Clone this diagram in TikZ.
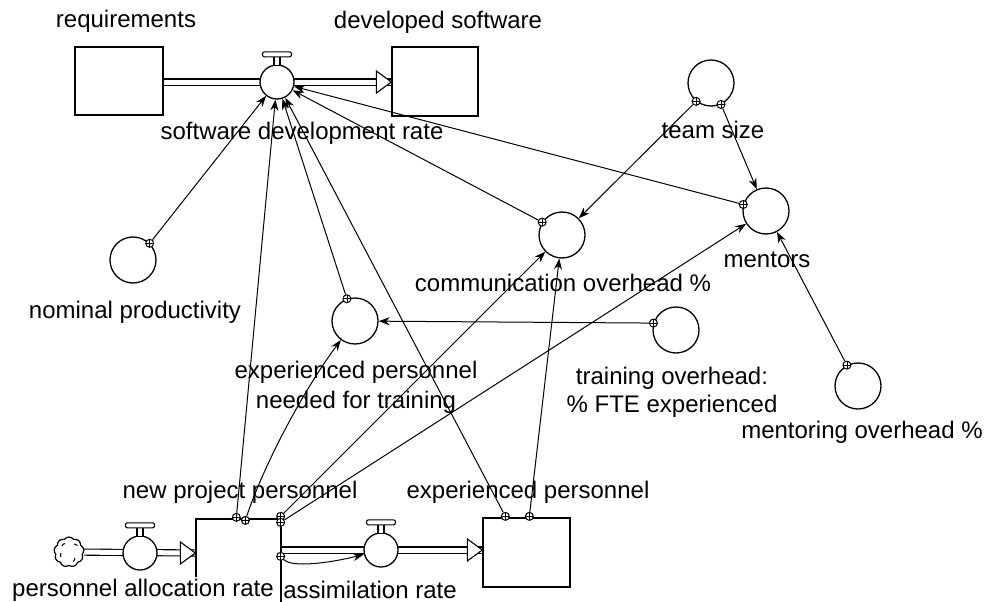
\documentclass[tikz,border=0pt]{standalone}
\usepackage{fontspec}
\setmainfont{Liberation Sans}
\usetikzlibrary{arrows.meta,shapes.symbols,calc}
\pgfdeclarelayer{links}
\pgfsetlayers{links,main}
\begin{document}
\begin{tikzpicture}[x=1pt,y=-1pt,
  lbl/.style={font=\fontsize{24}{28}\selectfont, inner sep=0pt, align=center},
  stock/.style={draw, line width=1.3pt, inner sep=0pt},
  aux/.style={draw, circle, line width=1.3pt, minimum size=46pt, inner sep=0pt, fill=white},
  valve/.style={draw, circle, line width=1.3pt, minimum size=34pt, inner sep=0pt, fill=white},
  tail/.style={draw, circle, line width=1pt, minimum size=8pt, inner sep=0pt, fill=white,
    path picture={\draw[line width=0.8pt]
      (path picture bounding box.north) -- (path picture bounding box.south)
      (path picture bounding box.west) -- (path picture bounding box.east);}},
  link/.style={line width=1pt, -{Stealth[length=11pt,width=8pt]}},
  pipe/.style={double, double distance=5pt, line width=1.1pt},
  pics/handle/.style={code={
    \draw[line width=1.1pt, fill=white] (-3,1) rectangle (3,-8);
    \draw[line width=1.1pt, fill=white, rounded corners=2pt] (-14.5,-7.5) rectangle (14.5,-12.5);}},
  pics/openhead/.style={code={
    \draw[line width=1.1pt, fill=white, line join=miter] (-15,-11) -- (0,0) -- (-15,11) -- cycle;}},
]
\useasboundingbox (0,0) rectangle (985,602);

% stocks
\node[stock, minimum width=88pt, minimum height=68pt] (req) at (119,81) {};
\node[stock, minimum width=86pt, minimum height=69pt] (dev) at (435,81.5) {};
\node[stock, minimum width=85pt, minimum height=92pt] (newproj) at (238.5,565) {};
\node[stock, minimum width=87pt, minimum height=69pt] (exper) at (526.5,552.5) {};

% source cloud
\node[cloud, draw, cloud puffs=9, cloud puff arc=110, aspect=1,
      minimum width=30pt, minimum height=30pt, line width=1.2pt, fill=white] (src) at (69,552) {};
\draw[line width=1pt] ($(src)+(-7,-6)$) arc[start angle=200, end angle=260, radius=4];
\draw[line width=1pt] ($(src)+(5,-8)$) arc[start angle=270, end angle=330, radius=4];
\draw[line width=1pt] ($(src)+(-8,5)$) arc[start angle=150, end angle=210, radius=4];
\draw[line width=1pt] ($(src)+(6,6)$) arc[start angle=0, end angle=60, radius=4];

% flow valves
\node[valve] (sdr) at (277,82) {};
\node[valve] (alloc) at (140,553) {};
\node[valve] (assim) at (381,550) {};
\pic at (sdr.north) {handle};
\pic at (alloc.north) {handle};
\pic at (assim.north) {handle};

% auxiliaries
\node[aux] (nominal) at (133,260) {};
\node[aux] (expneed) at (355,321) {};
\node[aux] (comm) at (562,235) {};
\node[aux] (team) at (711,83) {};
\node[aux] (mentors) at (766,211) {};
\node[aux] (training) at (676,330) {};
\node[aux] (mentoring) at (858,386) {};

% pipe end points on the stock edges
\coordinate (outR) at (dev.west |- sdr);
\coordinate (inA) at (newproj.west |- alloc);
\coordinate (outA) at (newproj.east |- assim);
\coordinate (inB) at (exper.west |- assim);

% tails of the information links
\node[tail] (tNom) at (nominal.45) {};
\node[tail] (tNeed) at (expneed.110) {};
\node[tail] (tComm) at (comm.147) {};
\node[tail] (tMent) at (mentors.164) {};
\node[tail] (tTrain) at (training.163) {};
\node[tail] (tMoh) at (mentoring.118) {};
\node[tail] (tTeamA) at (team.231) {};
\node[tail] (tTeamB) at (team.295) {};
\node[tail] (tNpA) at ($(newproj.north west)+(41,-1)$) {};
\node[tail] (tNpB) at ($(newproj.north west)+(50,2)$) {};
\node[tail] (tNpC) at ($(newproj.north east)+(-1,-2)$) {};
\node[tail] (tNpD) at ($(newproj.north east)+(-1,4)$) {};
\node[tail] (tNpE) at ($(newproj.north east)+(-1,38)$) {};
\node[tail] (tExA) at ($(exper.north west)+(23,-1)$) {};
\node[tail] (tExB) at ($(exper.north west)+(47,-1)$) {};

\begin{pgfonlayer}{links}
  % material flows
  \draw[pipe] (req.east |- sdr) -- (outR);
  \draw[pipe] (src) -- (inA);
  \draw[pipe] (outA) -- (inB);
  % information links
  \draw[link] (tNom) -- (sdr);
  \draw[link] (tNpA) -- (sdr);
  \draw[link] (tNeed) -- (sdr);
  \draw[link] (tExA) -- (sdr);
  \draw[link] (tComm) -- (sdr);
  \draw[link] (tMent) -- (sdr);
  \draw[link] (tTeamA) -- (comm);
  \draw[link] (tTeamB) -- (mentors);
  \draw[link] (tMoh) -- (mentors);
  \draw[link] (tNpD) -- (mentors);
  \draw[link] (tNpC) -- (comm);
  \draw[link] (tExB) -- (comm);
  \draw[link] (tTrain) -- (expneed);
  \draw[link] (tNpB) .. controls (262,470) and (300,395) .. (expneed);
  \draw[link] (tNpE) .. controls (292,568) and (330,563) .. (assim);
\end{pgfonlayer}

% flow arrowheads
\pic at (outR) {openhead};
\pic at (inA) {openhead};
\pic at (inB) {openhead};

% labels
\node[lbl] (Lreq) at (126,21) {requirements};
\node[lbl] (Ldev) at (438,22) {developed software};
\node[lbl] (Lsdr) at (302,133) {software development rate};
\node[lbl] (Lteam) at (713,130) {team size};
\node[lbl] (Lcomm) at (563,283) {communication overhead \%};
\node[lbl] (Lment) at (767,260) {mentors};
\node[lbl] (Lnom) at (135,312) {nominal productivity};
\node[lbl] (Lneed1) at (356,372) {experienced personnel};
\node[lbl] (Lneed2) at (356,402) {needed for training};
\node[lbl] (Ltrain1) at (672,378) {training overhead:};
\node[lbl] (Ltrain2) at (672,406) {\% FTE experienced};
\node[lbl] (Lmoh) at (862,432) {mentoring overhead \%};
\node[lbl] (Lnp) at (240,492) {new project personnel};
\node[lbl] (Lex) at (528,492) {experienced personnel};
\node[lbl, fill=white, inner ysep=2pt] (Lalloc) at (143,590) {personnel allocation rate};
\node[lbl] (Lassim) at (370,590) {assimilation rate};
\end{tikzpicture}
\end{document}
